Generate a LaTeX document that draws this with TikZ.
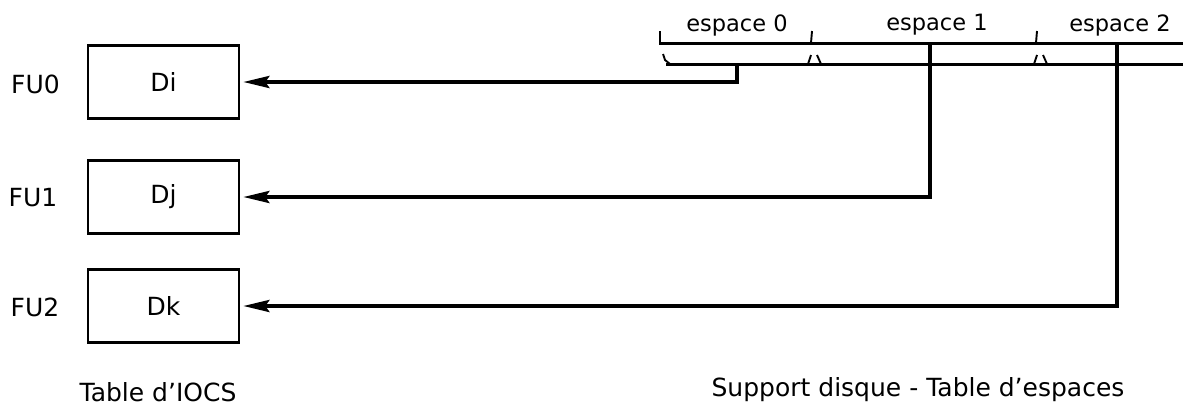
\documentclass[tikz,border=0pt]{standalone}
\usepackage{fontspec}
\setmainfont{DejaVu Sans}
\usetikzlibrary{arrows.meta}
\begin{document}
\begin{tikzpicture}[x=1pt,y=-1pt,
  box/.style={draw,line width=2.6pt,minimum width=151pt,minimum height=73pt,inner sep=0pt,font=\fontsize{25}{28}\selectfont},
  lbl/.style={font=\fontsize{25}{28}\selectfont,inner sep=0pt},
  sml/.style={font=\fontsize{22.5}{26}\selectfont,inner sep=0pt},
  conn/.style={line width=3.8pt,-{Stealth[length=26pt,width=12pt,inset=4pt]},shorten >=3pt},
  rail/.style={line width=3.8pt},
  tickmark/.style={line width=1.9pt}]
\useasboundingbox (0,0) rectangle (1183,405);
% IOCS table
\node[box] (b0) at (163.5,82) {Di};
\node[box] (b1) at (163.5,197) {Dj};
\node[box] (b2) at (163.5,306) {Dk};
\node[lbl] (f0) at (35.5,84) {FU0};
\node[lbl] (f1) at (33,198) {FU1};
\node[lbl] (f2) at (35,307) {FU2};
\node[lbl] (t1) at (158,392) {Table d'IOCS};
\node[lbl] (t2) at (918,390) {Support disque - Table d'espaces};
% disk rails
\node[sml] (e0) at (737,25) {espace 0};
\node[sml] (e1) at (937,25) {espace 1};
\node[sml] (e2) at (1120,25) {espace 2};
\draw[rail] (659,43.5) -- (1183,43.5);
\draw[rail] (666,64.5) -- (1183,64.5);
\draw[tickmark] (660,31) -- (660,43);
\draw[tickmark] (812,31) -- (811,43);
\draw[tickmark] (1037,31) -- (1036,43);
\draw[tickmark] (663,54) -- (665,60) -- (670,64);
\draw[tickmark] (808,64) -- (811,55);
\draw[tickmark] (817,55) -- (821,64);
\draw[tickmark] (1034,64) -- (1037,55);
\draw[tickmark] (1043,55) -- (1047,64);
% connectors
\coordinate (s0) at (737,64.5);
\coordinate (s1) at (930,43.5);
\coordinate (s2) at (1117,43.5);
\draw[conn] (s0) |- (b0.east);
\draw[conn] (s1) |- (b1.east);
\draw[conn] (s2) |- (b2.east);
\end{tikzpicture}
\end{document}
